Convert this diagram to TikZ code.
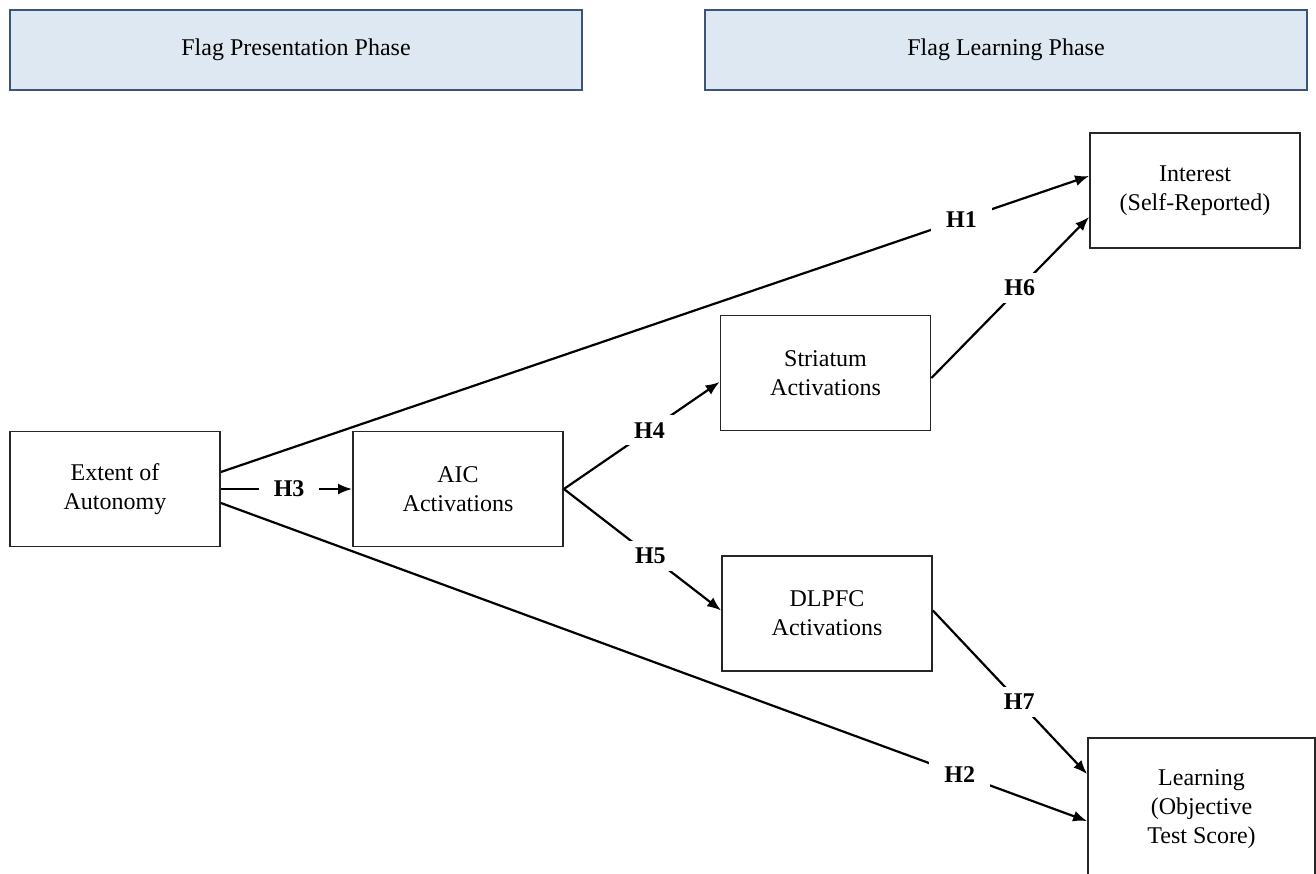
\documentclass[tikz,border=0pt]{standalone}
\usepackage{fontspec}
\setmainfont{Liberation Serif}
\usetikzlibrary{positioning,arrows.meta}
\definecolor{PhaseFill}{HTML}{DEE8F2}
\definecolor{PhaseLine}{HTML}{3B5478}

\begin{document}
\begin{tikzpicture}[x=1pt,y=-1pt, every node/.style={align=center},
    phase/.style={draw=PhaseLine,line width=1.8pt,fill=PhaseFill,minimum height=80pt,font=\fontsize{24}{28}\selectfont},
    box/.style={draw=black!85,line width=1.8pt,minimum width=210pt,minimum height=115pt,font=\fontsize{24}{29}\selectfont},
    link/.style={line width=2.2pt,-{Latex[length=14pt,width=11pt]}},
    hyp/.style={fill=white,font=\bfseries\fontsize{24}{28}\selectfont,inner xsep=15pt,inner ysep=7pt}]
        \useasboundingbox (0,0) rectangle (1316,874);
        % phases
        \node[phase,minimum width=572pt] (pres) at (296,50) {Flag Presentation Phase};
        \node[phase,minimum width=602pt] (lrnph) at (1006,50) {Flag Learning Phase};
        % variables
        \node[box] (ext) at (115,489) {Extent of\\Autonomy};
        \node[box] (aic) at (458,489) {AIC\\Activations};
        \node[box] (str) at (825.5,373) {Striatum\\Activations};
        \node[box] (dl) at (827,613.5) {DLPFC\\Activations};
        \node[box] (int) at (1195,190.5) {Interest\\(Self-Reported)};
        \node[box,minimum width=227pt,minimum height=142pt] (learn) at (1201.5,809) {Learning\\(Objective\\Test Score)};
        % hypotheses
        \draw[link] ([yshift=17pt]ext.east) -- node[hyp,pos=.853]{H1} ([yshift=14.5pt]int.west);
        \draw[link] ([yshift=-14pt]ext.east) -- node[hyp,pos=.853]{H2} ([yshift=-84pt]learn.north west);
        \draw[link] (ext) -- node[hyp,pos=.52]{H3} (aic);
        \draw[link] (aic.east) -- node[hyp,pos=.55]{H4} ([yshift=-9pt]str.west);
        \draw[link] (aic.east) -- node[hyp,pos=.55]{H5} ([yshift=3pt]dl.west);
        \draw[link] ([yshift=-5pt]str.east) -- node[hyp,pos=.56]{H6} ([yshift=-26.5pt]int.west);
        \draw[link] ([yshift=3pt]dl.east) -- node[hyp,pos=.56]{H7} ([yshift=-37pt]learn.north west);
      \end{tikzpicture}
\end{document}
